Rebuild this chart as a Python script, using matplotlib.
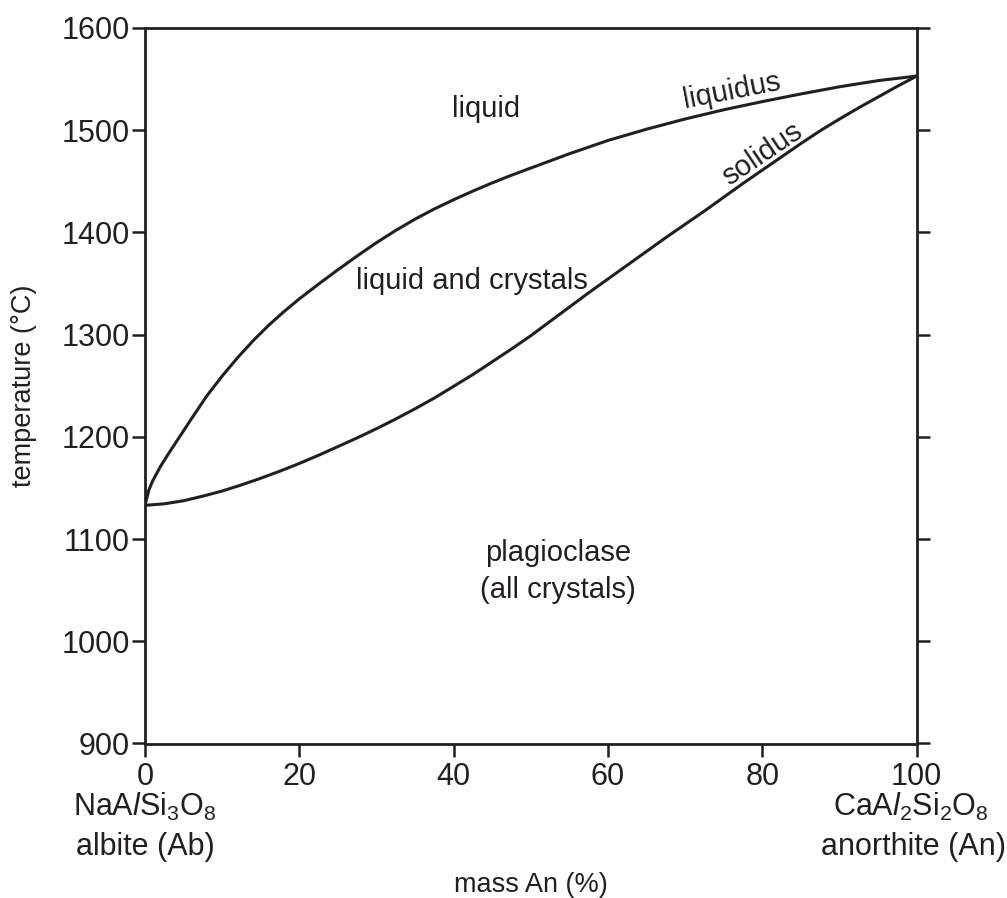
import matplotlib
matplotlib.use("Agg")
import matplotlib.pyplot as plt

plt.rcParams['font.family'] = ['Liberation Sans', 'DejaVu Sans']
plt.rcParams['mathtext.fontset'] = 'custom'
plt.rcParams['mathtext.rm'] = 'Liberation Sans'
plt.rcParams['mathtext.it'] = 'Liberation Sans:italic'
plt.rcParams['mathtext.bf'] = 'Liberation Sans:bold'

# Data (mass % An, temperature in °C)
liquidus_x = [0, 0.5, 1, 2, 3, 4, 5, 6, 8, 10, 12, 14, 16, 18, 20, 22.5, 25, 27.5, 30,
              32.5, 35, 37.5, 40, 42.5, 45, 47.5, 50, 55, 60, 65, 70, 75, 80, 85, 90, 95, 100]
liquidus_T = [1133, 1148, 1157, 1171, 1183, 1194.5, 1206, 1217.5, 1240, 1259.5, 1277.5, 1294,
              1309, 1322.5, 1335, 1349.5, 1363.5, 1377, 1390, 1402, 1413, 1423, 1432, 1440.5,
              1448.5, 1456, 1463, 1477, 1490, 1501, 1511, 1520, 1528, 1535.5, 1542.5, 1548.5, 1553]

solidus_x = [0, 2.5, 5, 7.5, 10, 12.5, 15, 17.5, 20, 22.5, 25, 27.5, 30, 32.5, 35, 37.5,
             40, 42.5, 45, 47.5, 50, 52.5, 55, 57.5, 60, 62.5, 65, 67.5, 70, 72.5, 75, 77.5,
             80, 82.5, 85, 87.5, 90, 92.5, 95, 97.5, 100]
solidus_T = [1133, 1134.5, 1137.5, 1142, 1147, 1153, 1159.5, 1166.5, 1174, 1182, 1190.5,
             1199, 1208, 1217.5, 1227.5, 1238, 1249.5, 1261, 1273.5, 1286, 1299, 1313,
             1327, 1341, 1354.5, 1368, 1381.5, 1395, 1408, 1421, 1434.5, 1448, 1461, 1474,
             1487, 1499.5, 1511, 1522, 1532.5, 1543, 1553]

x_ticks = [0, 20, 40, 60, 80, 100]
y_ticks = [900, 1000, 1100, 1200, 1300, 1400, 1500, 1600]

ink = '#231f20'
fs_tick = 22
fs = 21

W, H = 1007, 898
fig = plt.figure(figsize=(W / 100, H / 100), dpi=100)
ax_l, ax_r, ax_t, ax_b = 145, 916.7, 28, 743.5
ax = fig.add_axes([ax_l / W, 1 - ax_b / H, (ax_r - ax_l) / W, (ax_b - ax_t) / H])

ax.plot(liquidus_x, liquidus_T, color=ink, lw=2.2, solid_capstyle='round', solid_joinstyle='round')
ax.plot(solidus_x, solidus_T, color=ink, lw=2.2, solid_capstyle='round', solid_joinstyle='round')

ax.set_xlim(0, 100)
ax.set_ylim(900, 1600)
ax.set_xticks(x_ticks)
ax.set_yticks(y_ticks)
ax.tick_params(axis='both', direction='out', length=9.5, width=1.8, color=ink,
               labelsize=fs_tick, labelcolor=ink)
ax.tick_params(axis='y', right=True, left=True, pad=1.5)
ax.tick_params(axis='x', top=False, pad=3.5)
for s in ax.spines.values():
    s.set_linewidth(2.0)
    s.set_color(ink)

ax.set_ylabel('temperature (°C)', fontsize=19.5, color=ink)
ax.yaxis.set_label_coords((37 - ax_l) / (ax_r - ax_l), 0.5)

# region labels
ax.text(44.2, 1521, 'liquid', fontsize=fs, color=ink, ha='center', va='center')
ax.text(42.4, 1352, 'liquid and crystals', fontsize=fs, color=ink, ha='center', va='center')
ax.text(53.5, 1086, 'plagioclase', fontsize=fs, color=ink, ha='center', va='center')
ax.text(53.5, 1050, '(all crystals)', fontsize=fs, color=ink, ha='center', va='center')
ax.text(76.1, 1539, 'liquidus', fontsize=fs, color=ink, ha='center', va='center',
        rotation=11, rotation_mode='anchor')
ax.text(80.0, 1477, 'solidus', fontsize=fs, color=ink, ha='center', va='center',
        rotation=34, rotation_mode='anchor')

# end-member labels below the axis (baselines given in axes fraction)
tr = ax.get_xaxis_transform()
def yb(px):
    return (ax_b - px) / (ax_b - ax_t)

ax.text(0, yb(816), r'NaA$\mathit{l}$Si$_3$O$_8$', transform=tr, fontsize=fs_tick, color=ink,
        ha='center', va='baseline')
ax.text(0, yb(855), 'albite (Ab)', transform=tr, fontsize=fs_tick, color=ink,
        ha='center', va='baseline')
ax.text(99.3, yb(816), r'CaA$\mathit{l}_2$Si$_2$O$_8$', transform=tr, fontsize=fs_tick, color=ink,
        ha='center', va='baseline')
ax.text(99.55, yb(855), 'anorthite (An)', transform=tr, fontsize=fs_tick, color=ink,
        ha='center', va='baseline')
ax.text(50, yb(892), 'mass An (%)', transform=tr, fontsize=19.5, color=ink,
        ha='center', va='baseline')

fig.savefig('out.png', dpi=100)
